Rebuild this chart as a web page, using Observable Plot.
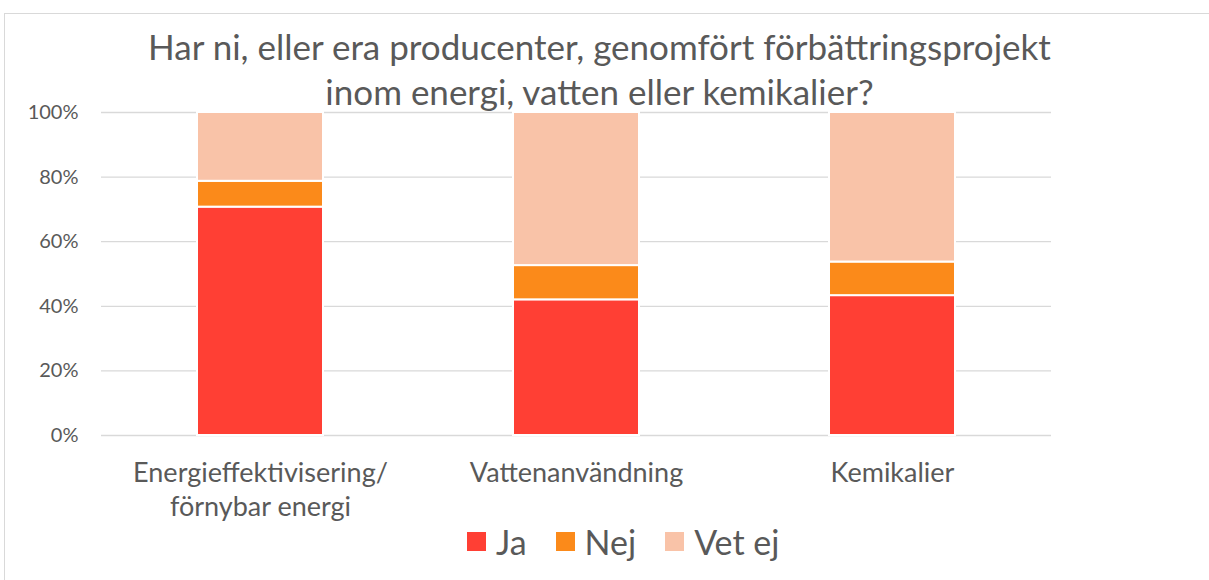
<!DOCTYPE html>
<html><head><meta charset="utf-8">
<script src="https://cdn.jsdelivr.net/npm/d3@7"></script>
<script src="https://cdn.jsdelivr.net/npm/@observablehq/plot@0.6"></script>
<style>
html,body{margin:0;padding:0;background:#fff;width:1209px;height:580px;overflow:hidden;font-family:Lato,sans-serif;}
#frame{position:absolute;left:4px;top:13px;width:1220px;height:600px;border:1px solid #d9d9d9;box-sizing:border-box;}
#title{position:absolute;left:0;top:24px;width:1199px;text-align:center;color:#595959;font-size:35px;line-height:45px;}
#chart{position:absolute;left:0;top:90px;}
#legend{position:absolute;top:521px;left:467px;display:flex;align-items:center;color:#595959;font-size:34px;}
.item{display:flex;align-items:center;margin-right:29px;}
.sw{width:19px;height:19px;margin-right:10px;}
</style></head>
<body>
<div id="frame"></div>
<div id="title">Har ni, eller era producenter, genomfört förbättringsprojekt<br>inom energi, vatten eller kemikalier?</div>
<div id="chart"></div>
<div id="legend"></div>
<script>
const categories = ["Energieffektivisering/\nförnybar energi", "Vattenanvändning", "Kemikalier"];
const series = ["Ja", "Nej", "Vet ej"];
const ja = [0.707, 0.420, 0.433];
const nej = [0.080, 0.106, 0.104];
const vetej = [0.213, 0.474, 0.463];
const colors = ["#ff3f34", "#fb8a1a", "#f9c3a8"];
const yTicks = [0, 0.2, 0.4, 0.6, 0.8, 1.0];

const values = [ja, nej, vetej];
const data = [];
series.forEach((s, si) => categories.forEach((c, ci) => data.push({cat: c, series: s, value: values[si][ci]})));

const chart = Plot.plot({
  width: 1209,
  height: 440,
  marginLeft: 101,
  marginRight: 158,
  marginTop: 22,
  marginBottom: 95,
  style: {fontFamily: "Lato, sans-serif", color: "#595959", background: "transparent"},
  x: {domain: categories, paddingInner: 0.6, paddingOuter: 0.3, label: null},
  y: {domain: [0, 1], label: null},
  color: {domain: series, range: colors},
  marks: [
    Plot.ruleY(yTicks, {stroke: "#d9d9d9", strokeWidth: 1.3}),
    Plot.barY(data, {x: "cat", y: "value", fill: "series", stroke: "white", strokeWidth: 2}),
    Plot.axisY({ticks: yTicks, tickFormat: d => Math.round(d * 100) + "%", tickSize: 0, tickPadding: 23, fontSize: 20, fill: "#595959"}),
    Plot.axisX({tickSize: 0, tickPadding: 22, fontSize: 27, lineHeight: 1.26, fill: "#595959"})
  ]
});
document.getElementById("chart").appendChild(chart);

const legend = document.getElementById("legend");
series.forEach((s, i) => {
  const it = document.createElement("div"); it.className = "item";
  const sw = document.createElement("div"); sw.className = "sw"; sw.style.background = colors[i];
  const t = document.createElement("span"); t.textContent = s;
  it.appendChild(sw); it.appendChild(t); legend.appendChild(it);
});
</script>
</body></html>
